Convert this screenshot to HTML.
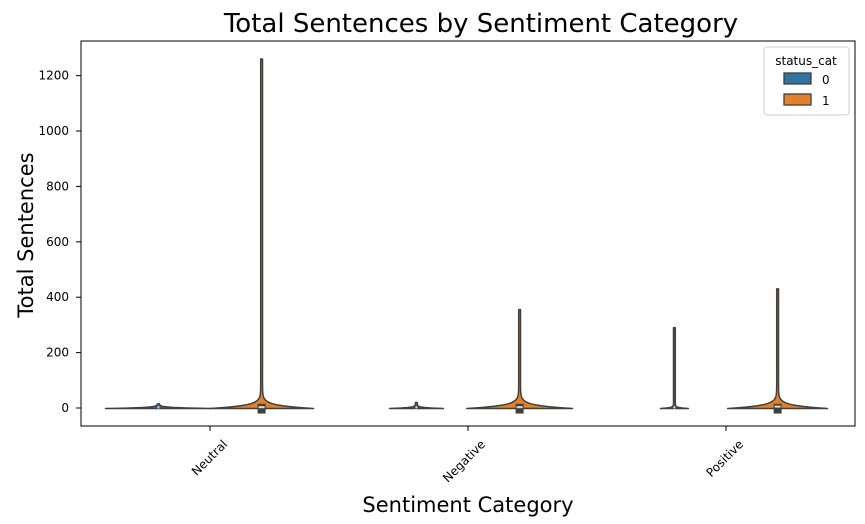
<!DOCTYPE html>
<html><head><meta charset="utf-8"><style>
body{margin:0;background:#fff}
svg{display:block;font-family:"DejaVu Sans","Liberation Sans",sans-serif}
</style></head><body>
<svg id="c" width="865" height="524" viewBox="0 0 865 524">
<rect width="865" height="524" fill="#fff"/>
<text x="481" y="32" font-size="26" text-anchor="middle">Total Sentences by Sentiment Category</text>
<g id="plot"></g>
<rect x="81" y="41" width="774" height="385" fill="none" stroke="#000" stroke-width="1"/>
<text x="468" y="512" font-size="21" text-anchor="middle">Sentiment Category</text>
<text transform="translate(33,235) rotate(-90)" font-size="21" text-anchor="middle">Total Sentences</text>
<g>
<rect x="764" y="47" width="85" height="68" rx="3" fill="#fff" stroke="#ccc"/>
<text x="806" y="65" font-size="12" text-anchor="middle">status_cat</text>
<rect x="784" y="73" width="27" height="11" fill="#3274a1" stroke="#3f3f3f" stroke-width="1.3"/>
<text x="822" y="84" font-size="12">0</text>
<rect x="784" y="94" width="27" height="11" fill="#e1812c" stroke="#3f3f3f" stroke-width="1.3"/>
<text x="822" y="105" font-size="12">1</text>
</g>
</svg>
<script>
const categories=["Neutral","Negative","Positive"];
const hues=["0","1"];
const maxVals0=[15,20,290];
const maxVals1=[1260,355,430];
const q1Vals0=[-2,-2,-2];
const q3Vals0=[4,4,4];
const q1Vals1=[-20,-20,-20];
const q3Vals1=[15,15,15];
const medians0=[2,2,2];
const medians1=[3,3,5];
const densityWidth0=[52,26,13];
const densityWidth1=[51,52,49];
const yTicks=[0,200,400,600,800,1000,1200];

const L=81,R=855,T=41,B=426;
const yMin=-65,yMax=1325;
const y=v=>B-(v-yMin)/(yMax-yMin)*(B-T);
const band=(R-L)/categories.length;
const xc=i=>L+band*(i+0.5);
const NS="http://www.w3.org/2000/svg";
const plot=document.getElementById('plot');
function mk(t,a){const e=document.createElementNS(NS,t);for(const k in a)e.setAttribute(k,a[k]);return e;}

yTicks.forEach(t=>{
  const ln=mk('line',{x1:L-5,x2:L,y1:y(t),y2:y(t),stroke:'#000'});
  
  
  plot.appendChild(ln);
  const tx=mk('text',{x:L-12,y:y(t)+4,'font-size':12,'text-anchor':'end'});
  tx.textContent=t;
  
  
  plot.appendChild(tx);
});
categories.forEach((c,i)=>{
  const ln=mk('line',{x1:xc(i),x2:xc(i),y1:B,y2:B+5,stroke:'#000'});
  
  
  plot.appendChild(ln);
  const tx=mk('text',{transform:`translate(${xc(i)+18},${B+19}) rotate(-45)`,'font-size':12,'text-anchor':'end'});
  tx.textContent=c;
  
  
  plot.appendChild(tx);
});

function violin(cx,hw,maxV,q1,q3,med,fill,name,decay){
  const base=y(-2), top=y(maxV);
  const H=base-top;
  const ds=[];
  for(let d=0;d<Math.min(H,40);d+=0.5) ds.push(d);
  for(let d=40;d<H;d+=10) ds.push(d);
  ds.push(H);
  const pts=ds.map(d=>[base-d, hw*Math.exp(-d/decay)+0.9]);
  let p=`M${cx-pts[0][1]},${pts[0][0]}`;
  pts.forEach(q=>p+=` L${cx-q[1]},${q[0]}`);
  for(let k=pts.length-1;k>=0;k--) p+=` L${cx+pts[k][1]},${pts[k][0]}`;
  p+='Z';
  const v=mk('path',{d:p,fill:fill,stroke:'#3f3f3f','stroke-width':1.5,'stroke-linejoin':'round'});
  
  
  plot.appendChild(v);
  const bw=decay>2?8:4;
  const bx=mk('rect',{x:cx-bw/2,y:y(q3),width:bw,height:Math.max(2,y(q1)-y(q3)),fill:'#3f3f3f'});
  
  
  plot.appendChild(bx);
  const m=mk('rect',{x:cx-bw/2+1,y:y(med)-1,width:bw-2,height:2,fill:'#ddd'});
  
  
  plot.appendChild(m);
}
const off=band*0.2;
categories.forEach((c,i)=>{
  violin(xc(i)-off,densityWidth0[i],maxVals0[i],q1Vals0[i],q3Vals0[i],medians0[i],'#3274a1','violin-'+c.toLowerCase()+'-0',0.8);
  violin(xc(i)+off,densityWidth1[i],maxVals1[i],q1Vals1[i],q3Vals1[i],medians1[i],'#e1812c','violin-'+c.toLowerCase()+'-1',3);
});
</script>
</body></html>
